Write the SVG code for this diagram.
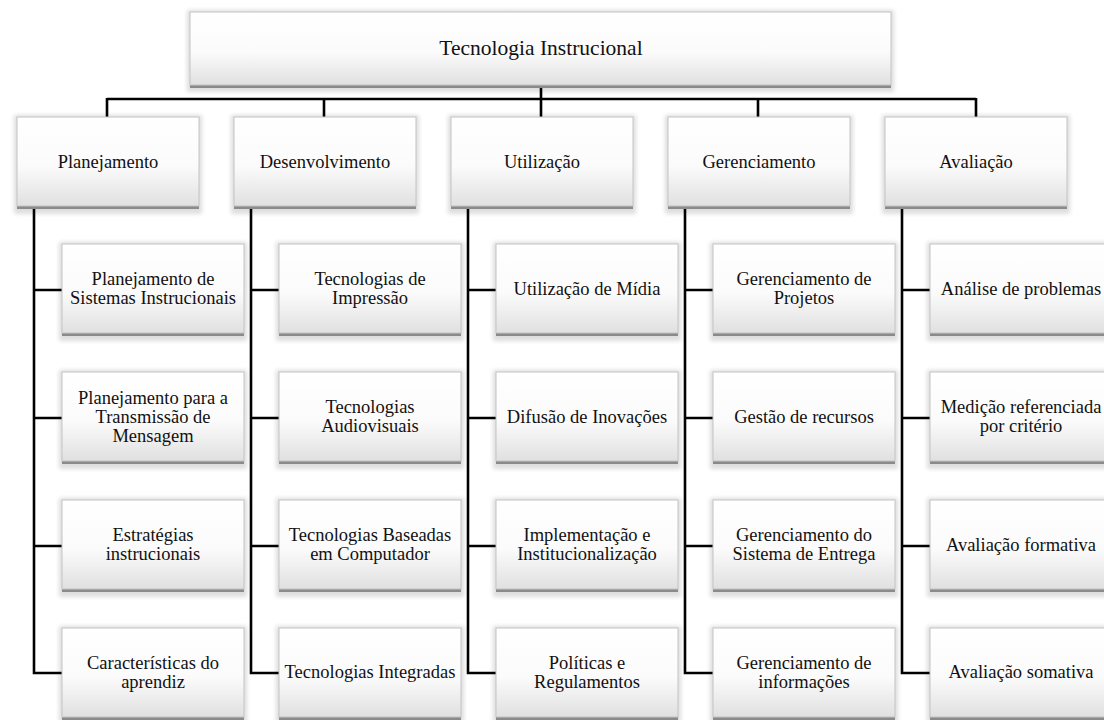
<svg xmlns="http://www.w3.org/2000/svg" width="1104" height="720" viewBox="0 0 1104 720">
<defs>
<linearGradient id="g" x1="0" y1="0" x2="0" y2="1">
<stop offset="0" stop-color="#ffffff"/>
<stop offset="0.55" stop-color="#fbfbfb"/>
<stop offset="1" stop-color="#e0e0e0"/>
</linearGradient>
<filter id="blur" x="-10%" y="-20%" width="120%" height="140%">
<feGaussianBlur stdDeviation="2.2"/>
</filter>
</defs>
<style>
.sh{fill:#000;opacity:0.13;filter:url(#blur)}
.bb{fill:#8a8a8a}
.bx{fill:url(#g);stroke:#c4c4c4;stroke-width:1}
.t{font-size:18.5px;fill:#111;text-anchor:middle}
.tt{font-size:21.5px;fill:#111;text-anchor:middle}
.c{fill:none;stroke:#000;stroke-width:2.6}
</style>
<rect width="1104" height="720" fill="#fff"/>

<g id="connectors">
<path class="c" d="M541,86 V99 M107,99 H976 M107,98 V117 M324,98 V117 M541,99 V117 M758,98 V117 M976,98 V117"/>
<path class="c" d="M34,208 V673 H62 M34,290 H62 M34,418 H62 M34,546 H62"/>
<path class="c" d="M251,208 V673 H279 M251,290 H279 M251,418 H279 M251,546 H279"/>
<path class="c" d="M468,208 V673 H496 M468,290 H496 M468,418 H496 M468,546 H496"/>
<path class="c" d="M685,208 V673 H713 M685,290 H713 M685,418 H713 M685,546 H713"/>
<path class="c" d="M902,208 V673 H930 M902,290 H930 M902,418 H930 M902,546 H930"/>
</g>

<g font-family="'Liberation Serif', 'DejaVu Serif', 'Times New Roman', serif">
<g id="n-root">
<rect class="sh" x="187" y="10" width="707" height="82"/>
<rect class="bb" x="190" y="83" width="701" height="5"/>
<rect class="bx" x="190" y="12" width="701" height="73"/>
<text class="tt" x="541" y="55">Tecnologia Instrucional</text>
</g>

<g id="n-planejamento">
<rect class="sh" x="14" y="115" width="188" height="99"/>
<rect class="bb" x="17" y="204" width="182" height="5"/>
<rect class="bx" x="17" y="117" width="182" height="89"/>
<text class="t" x="108" y="168">Planejamento</text>
</g>
<g id="n-desenvolvimento">
<rect class="sh" x="231" y="115" width="188" height="99"/>
<rect class="bb" x="234" y="204" width="182" height="5"/>
<rect class="bx" x="234" y="117" width="182" height="89"/>
<text class="t" x="325" y="168">Desenvolvimento</text>
</g>
<g id="n-utilizacao">
<rect class="sh" x="448" y="115" width="188" height="99"/>
<rect class="bb" x="451" y="204" width="182" height="5"/>
<rect class="bx" x="451" y="117" width="182" height="89"/>
<text class="t" x="542" y="168">Utilização</text>
</g>
<g id="n-gerenciamento">
<rect class="sh" x="665" y="115" width="188" height="99"/>
<rect class="bb" x="668" y="204" width="182" height="5"/>
<rect class="bx" x="668" y="117" width="182" height="89"/>
<text class="t" x="759" y="168">Gerenciamento</text>
</g>
<g id="n-avaliacao">
<rect class="sh" x="882" y="115" width="188" height="99"/>
<rect class="bb" x="885" y="204" width="182" height="5"/>
<rect class="bx" x="885" y="117" width="182" height="89"/>
<text class="t" x="976" y="168">Avaliação</text>
</g>

<g id="n-p1">
<rect class="sh" x="59" y="242" width="188" height="99"/>
<rect class="bb" x="62" y="331" width="182" height="5"/>
<rect class="bx" x="62" y="244" width="182" height="89"/>
<text class="t" x="153" y="285">Planejamento de</text>
<text class="t" x="153" y="304">Sistemas Instrucionais</text>
</g>
<g id="n-p2">
<rect class="sh" x="59" y="370" width="188" height="99"/>
<rect class="bb" x="62" y="459" width="182" height="5"/>
<rect class="bx" x="62" y="372" width="182" height="89"/>
<text class="t" x="153" y="404">Planejamento para a</text>
<text class="t" x="153" y="423">Transmissão de</text>
<text class="t" x="153" y="442">Mensagem</text>
</g>
<g id="n-p3">
<rect class="sh" x="59" y="498" width="188" height="99"/>
<rect class="bb" x="62" y="587" width="182" height="5"/>
<rect class="bx" x="62" y="500" width="182" height="89"/>
<text class="t" x="153" y="541">Estratégias</text>
<text class="t" x="153" y="560">instrucionais</text>
</g>
<g id="n-p4">
<rect class="sh" x="59" y="626" width="188" height="99"/>
<rect class="bb" x="62" y="715" width="182" height="5"/>
<rect class="bx" x="62" y="628" width="182" height="89"/>
<text class="t" x="153" y="669">Características do</text>
<text class="t" x="153" y="688">aprendiz</text>
</g>

<g id="n-d1">
<rect class="sh" x="276" y="242" width="188" height="99"/>
<rect class="bb" x="279" y="331" width="182" height="5"/>
<rect class="bx" x="279" y="244" width="182" height="89"/>
<text class="t" x="370" y="285">Tecnologias de</text>
<text class="t" x="370" y="304">Impressão</text>
</g>
<g id="n-d2">
<rect class="sh" x="276" y="370" width="188" height="99"/>
<rect class="bb" x="279" y="459" width="182" height="5"/>
<rect class="bx" x="279" y="372" width="182" height="89"/>
<text class="t" x="370" y="413">Tecnologias</text>
<text class="t" x="370" y="432">Audiovisuais</text>
</g>
<g id="n-d3">
<rect class="sh" x="276" y="498" width="188" height="99"/>
<rect class="bb" x="279" y="587" width="182" height="5"/>
<rect class="bx" x="279" y="500" width="182" height="89"/>
<text class="t" x="370" y="541">Tecnologias Baseadas</text>
<text class="t" x="370" y="560">em Computador</text>
</g>
<g id="n-d4">
<rect class="sh" x="276" y="626" width="188" height="99"/>
<rect class="bb" x="279" y="715" width="182" height="5"/>
<rect class="bx" x="279" y="628" width="182" height="89"/>
<text class="t" x="370" y="678">Tecnologias Integradas</text>
</g>

<g id="n-u1">
<rect class="sh" x="493" y="242" width="188" height="99"/>
<rect class="bb" x="496" y="331" width="182" height="5"/>
<rect class="bx" x="496" y="244" width="182" height="89"/>
<text class="t" x="587" y="295">Utilização de Mídia</text>
</g>
<g id="n-u2">
<rect class="sh" x="493" y="370" width="188" height="99"/>
<rect class="bb" x="496" y="459" width="182" height="5"/>
<rect class="bx" x="496" y="372" width="182" height="89"/>
<text class="t" x="587" y="423">Difusão de Inovações</text>
</g>
<g id="n-u3">
<rect class="sh" x="493" y="498" width="188" height="99"/>
<rect class="bb" x="496" y="587" width="182" height="5"/>
<rect class="bx" x="496" y="500" width="182" height="89"/>
<text class="t" x="587" y="541">Implementação e</text>
<text class="t" x="587" y="560">Institucionalização</text>
</g>
<g id="n-u4">
<rect class="sh" x="493" y="626" width="188" height="99"/>
<rect class="bb" x="496" y="715" width="182" height="5"/>
<rect class="bx" x="496" y="628" width="182" height="89"/>
<text class="t" x="587" y="669">Políticas e</text>
<text class="t" x="587" y="688">Regulamentos</text>
</g>

<g id="n-g1">
<rect class="sh" x="710" y="242" width="188" height="99"/>
<rect class="bb" x="713" y="331" width="182" height="5"/>
<rect class="bx" x="713" y="244" width="182" height="89"/>
<text class="t" x="804" y="285">Gerenciamento de</text>
<text class="t" x="804" y="304">Projetos</text>
</g>
<g id="n-g2">
<rect class="sh" x="710" y="370" width="188" height="99"/>
<rect class="bb" x="713" y="459" width="182" height="5"/>
<rect class="bx" x="713" y="372" width="182" height="89"/>
<text class="t" x="804" y="423">Gestão de recursos</text>
</g>
<g id="n-g3">
<rect class="sh" x="710" y="498" width="188" height="99"/>
<rect class="bb" x="713" y="587" width="182" height="5"/>
<rect class="bx" x="713" y="500" width="182" height="89"/>
<text class="t" x="804" y="541">Gerenciamento do</text>
<text class="t" x="804" y="560">Sistema de Entrega</text>
</g>
<g id="n-g4">
<rect class="sh" x="710" y="626" width="188" height="99"/>
<rect class="bb" x="713" y="715" width="182" height="5"/>
<rect class="bx" x="713" y="628" width="182" height="89"/>
<text class="t" x="804" y="669">Gerenciamento de</text>
<text class="t" x="804" y="688">informações</text>
</g>

<g id="n-a1">
<rect class="sh" x="927" y="242" width="188" height="99"/>
<rect class="bb" x="930" y="331" width="182" height="5"/>
<rect class="bx" x="930" y="244" width="182" height="89"/>
<text class="t" x="1021" y="295">Análise de problemas</text>
</g>
<g id="n-a2">
<rect class="sh" x="927" y="370" width="188" height="99"/>
<rect class="bb" x="930" y="459" width="182" height="5"/>
<rect class="bx" x="930" y="372" width="182" height="89"/>
<text class="t" x="1021" y="413">Medição referenciada</text>
<text class="t" x="1021" y="432">por critério</text>
</g>
<g id="n-a3">
<rect class="sh" x="927" y="498" width="188" height="99"/>
<rect class="bb" x="930" y="587" width="182" height="5"/>
<rect class="bx" x="930" y="500" width="182" height="89"/>
<text class="t" x="1021" y="551">Avaliação formativa</text>
</g>
<g id="n-a4">
<rect class="sh" x="927" y="626" width="188" height="99"/>
<rect class="bb" x="930" y="715" width="182" height="5"/>
<rect class="bx" x="930" y="628" width="182" height="89"/>
<text class="t" x="1021" y="678">Avaliação somativa</text>
</g>
</g>
</svg>
